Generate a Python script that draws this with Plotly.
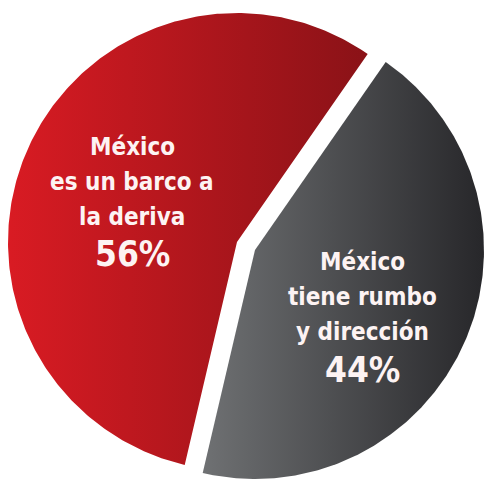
import numpy as np
import plotly.graph_objects as go

# Survey answers: share of respondents per statement
label_lines = [
    ["México", "es un barco a", "la deriva"],
    ["México", "tiene rumbo", "y dirección"],
]
shares = [56, 44]

# Horizontal gradient (light -> dark) for each slice
gradients = [
    ("#d91b23", "#8a1217"),
    ("#6f7173", "#27272a"),
]

W, H = 486, 481
CX, CY, R = 237, 242, 229          # pie centre and radius in pixels
PULLED = 1                          # index of the slice pulled out
PULL_DIST = 19.7                    # pull distance in pixels
PULLED_MID = 114.0                  # bisector angle of the pulled slice (deg, clockwise from 12 o'clock)

FONT = "Liberation Sans Narrow, DejaVu Sans Condensed, Roboto, sans-serif"
TEXT_COLOR = "#fdf3f3"

# Angular extents from the shares (clockwise from 12 o'clock)
spans = [s / sum(shares) * 360.0 for s in shares]
starts = [0.0, 0.0]
starts[PULLED] = PULLED_MID - spans[PULLED] / 2.0
starts[1 - PULLED] = starts[PULLED] + spans[PULLED]

fig = go.Figure()
for i, (share, span, a0) in enumerate(zip(shares, spans, starts)):
    theta = np.radians(np.linspace(a0, a0 + span, 300))
    ox = oy = 0.0
    if i == PULLED:
        mid = np.radians(a0 + span / 2.0)
        ox, oy = PULL_DIST * np.sin(mid), -PULL_DIST * np.cos(mid)
    ax, ay = CX + ox, CY + oy
    xs = np.concatenate([[ax], ax + R * np.sin(theta), [ax]])
    ys = np.concatenate([[ay], ay - R * np.cos(theta), [ay]])
    c0, c1 = gradients[i]
    fig.add_trace(go.Scatter(
        x=xs, y=ys, mode="lines", fill="toself",
        line=dict(width=0, color=c1),
        fillgradient=dict(type="horizontal", colorscale=[[0, c0], [1, c1]]),
        hoverinfo="skip", showlegend=False,
    ))

# Label placement: centre x, first line y, line step, percentage y
label_pos = [
    (132, 147, 35, 254),
    (362, 262, 35, 370),
]
for lines, share, (lx, ly, step, py) in zip(label_lines, shares, label_pos):
    for k, line in enumerate(lines):
        fig.add_annotation(
            x=lx, y=ly + k * step, xref="x", yref="y", text=f"<b>{line}</b>",
            showarrow=False, font=dict(family=FONT, size=24, color=TEXT_COLOR),
            xanchor="center", yanchor="middle",
        )
    fig.add_annotation(
        x=lx, y=py, xref="x", yref="y", text=f"<b>{share}%</b>",
        showarrow=False, font=dict(family=FONT, size=35, color=TEXT_COLOR),
        xanchor="center", yanchor="middle",
    )

fig.update_layout(
    width=W, height=H,
    margin=dict(l=0, r=0, t=0, b=0),
    paper_bgcolor="white", plot_bgcolor="white",
    xaxis=dict(range=[0, W], visible=False, fixedrange=True),
    yaxis=dict(range=[H, 0], visible=False, fixedrange=True),
    showlegend=False,
)

fig.write_html("out.html")
